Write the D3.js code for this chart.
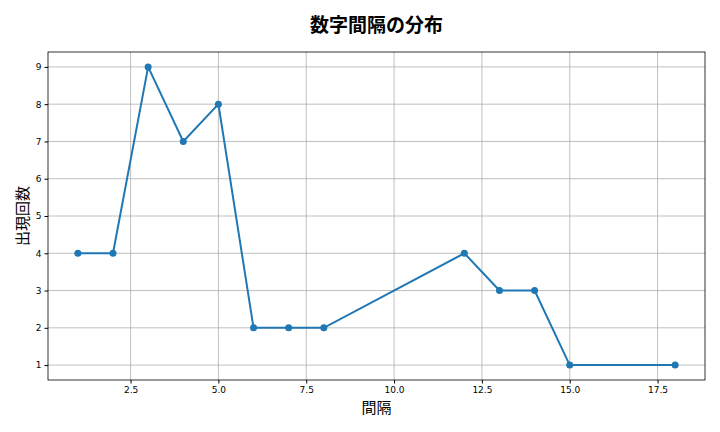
<!DOCTYPE html>
<html><head><meta charset="utf-8">
<script src="https://cdn.jsdelivr.net/npm/d3@7"></script>
<style>body{margin:0;background:#fff;font-family:"Noto Sans CJK JP","DejaVu Sans",sans-serif;}</style>
</head><body>
<script>
var gaps = [1, 2, 3, 4, 5, 6, 7, 8, 12, 13, 14, 15, 18];
var counts = [4, 4, 9, 7, 8, 2, 2, 2, 4, 3, 3, 1, 1];
var xTicks = [2.5, 5.0, 7.5, 10.0, 12.5, 15.0, 17.5];
var yTicks = [1, 2, 3, 4, 5, 6, 7, 8, 9];

var margin = { top: 52, right: 15, bottom: 52, left: 48 };
var width = 720 - margin.left - margin.right;
var height = 432 - margin.top - margin.bottom;

var svg = d3.select("body").append("svg").attr("width", 720).attr("height", 432);
var g = svg.append("g").attr("transform", "translate(" + margin.left + "," + margin.top + ")");

var x = d3.scaleLinear().domain([0.15, 18.85]).range([0, width]);
var y = d3.scaleLinear().domain([0.6, 9.4]).range([height, 0]);

// グリッド
g.selectAll(".gx").data(xTicks).enter().append("line")
    .attr("x1", d => x(d)).attr("x2", d => x(d)).attr("y1", 0).attr("y2", height)
    .style("stroke", "#b0b0b0").style("stroke-width", 0.8);
g.selectAll(".gy").data(yTicks).enter().append("line")
    .attr("y1", d => y(d)).attr("y2", d => y(d)).attr("x1", 0).attr("x2", width)
    .style("stroke", "#b0b0b0").style("stroke-width", 0.8);

var xAxis = g.append("g").attr("transform", "translate(0," + height + ")")
    .call(d3.axisBottom(x).tickValues(xTicks).tickFormat(d3.format(".1f")).tickSize(3.5));
var yAxis = g.append("g").call(d3.axisLeft(y).tickValues(yTicks).tickSize(3.5));
[xAxis, yAxis].forEach(function(a) {
    a.select(".domain").remove();
    a.selectAll("text").style("font-size", "9px").style("font-family", "DejaVu Sans").attr("fill", "#000");
});

g.append("rect").attr("width", width).attr("height", height)
    .style("fill", "none").style("stroke", "#000").style("stroke-width", 0.8);

var data = gaps.map((d, i) => ({ q: d, p: counts[i] }));
var line = d3.line().x(d => x(d.q)).y(d => y(d.p));
g.append("path").datum(data).attr("d", line)
    .style("fill", "none").style("stroke", "#1f77b4").style("stroke-width", "2px");
g.selectAll(".pt").data(data).enter().append("circle")
    .attr("cx", d => x(d.q)).attr("cy", d => y(d.p)).attr("r", 3.5).style("fill", "#1f77b4");

svg.append("text").attr("x", margin.left + width / 2).attr("y", 32).attr("text-anchor", "middle")
    .style("font-size", "19px").style("font-weight", "bold").text("数字間隔の分布");
svg.append("text").attr("x", margin.left + width / 2).attr("y", 413).attr("text-anchor", "middle")
    .style("font-size", "15px").text("間隔");
svg.append("text").attr("transform", "translate(28," + (margin.top + height / 2) + ") rotate(-90)")
    .attr("text-anchor", "middle").style("font-size", "15px").text("出現回数");
</script>
</body></html>
